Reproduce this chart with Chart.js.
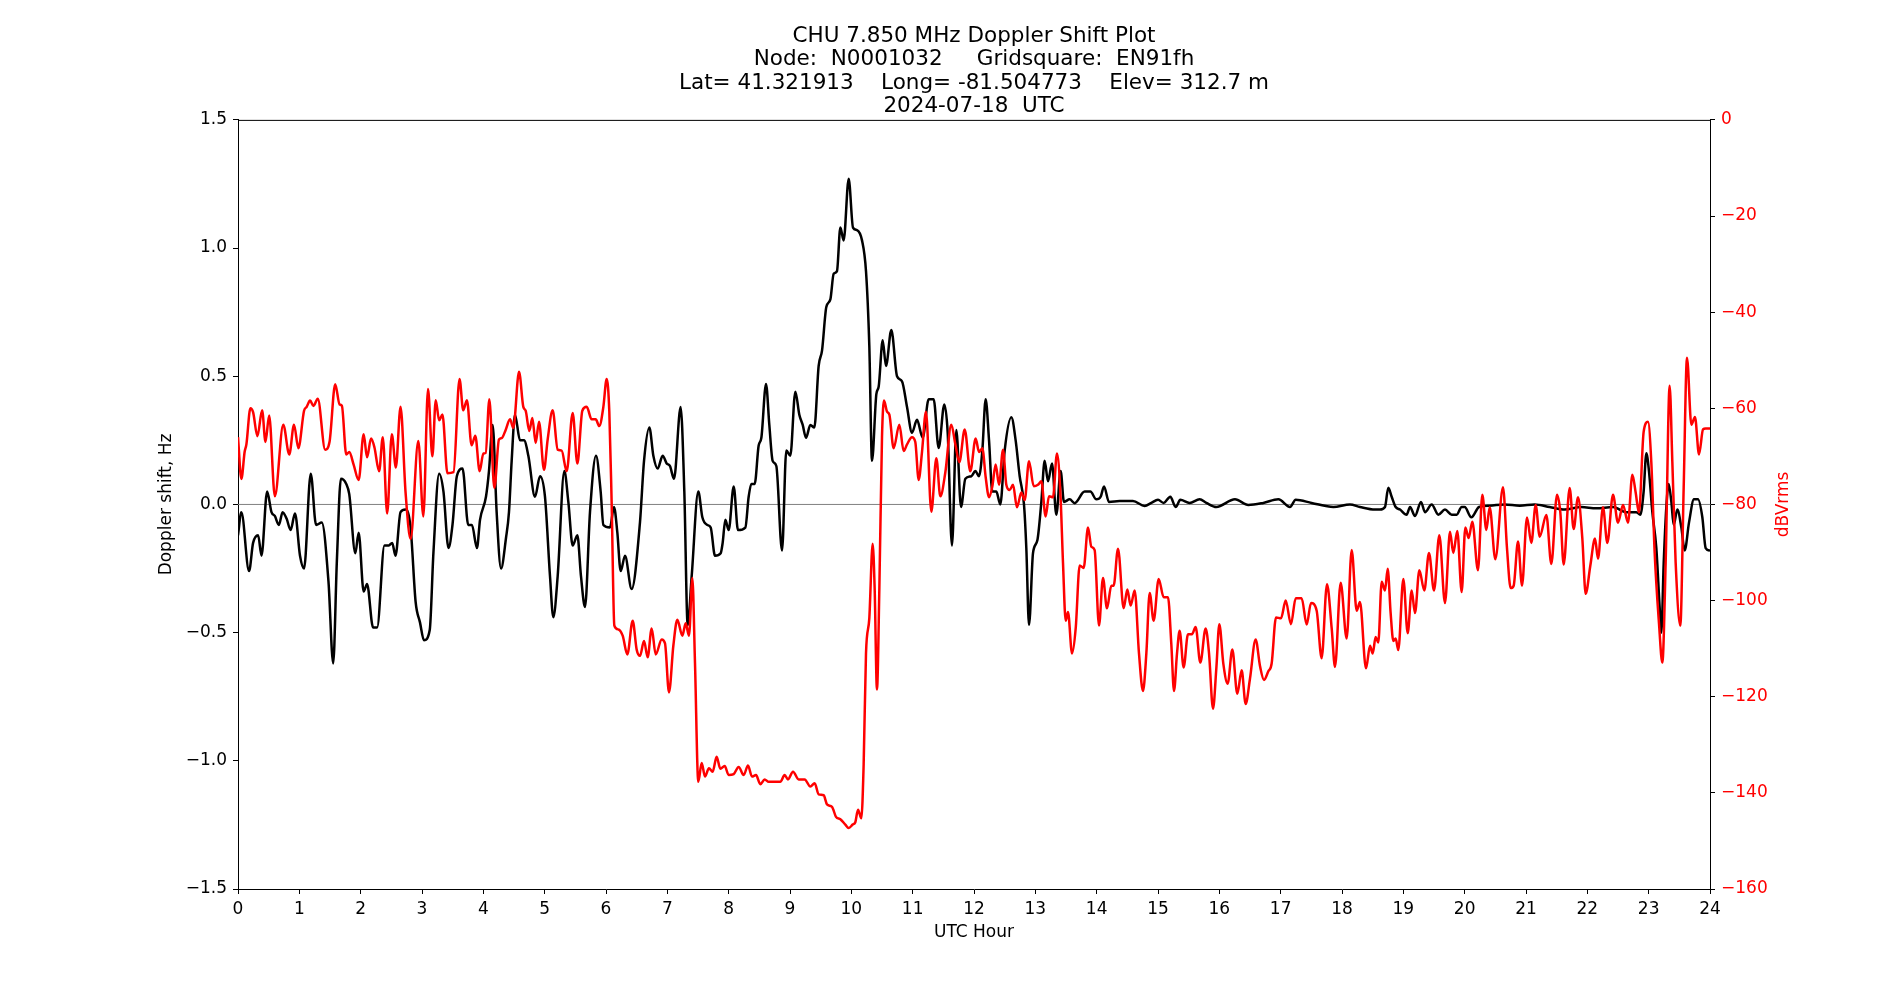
<!DOCTYPE html>
<html>
<head>
<meta charset="utf-8">
<title>CHU 7.850 MHz Doppler Shift Plot</title>
<script src="https://cdn.jsdelivr.net/npm/chart.js@4.4.1/dist/chart.umd.min.js"></script>
<style>
  html, body { margin: 0; padding: 0; background: #fff; }
  #wrap { width: 1900px; height: 1000px; }
</style>
</head>
<body>
<div id="wrap"><canvas id="plot" width="1900" height="1000"></canvas></div>
<script>
// Title lines
const titleLines = [
    'CHU 7.850 MHz Doppler Shift Plot',
    'Node:  N0001032     Gridsquare:  EN91fh',
    'Lat= 41.321913    Long= -81.504773    Elev= 312.7 m',
    '2024-07-18  UTC'
];

// Doppler shift (Hz), left axis
const dopplerHour = [
    0, 0.055, 0.18, 0.246, 0.328, 0.383, 0.475, 0.546, 0.60, 0.667, 0.727, 0.792, 0.858, 0.929,
    1.011, 1.077, 1.186, 1.273, 1.366, 1.475, 1.552, 1.612, 1.678, 1.765, 1.814, 1.913, 1.967,
    2.049, 2.104, 2.202, 2.268, 2.388, 2.459, 2.514, 2.568, 2.650, 2.732, 2.814, 2.896, 2.967,
    3.033, 3.126, 3.186, 3.279, 3.350, 3.432, 3.497, 3.568, 3.661, 3.754, 3.814, 3.896, 3.946,
    4.043, 4.092, 4.152, 4.217, 4.288, 4.370, 4.418, 4.462, 4.516, 4.598, 4.663, 4.734, 4.842, 4.924,
    5.005, 5.087, 5.141, 5.212, 5.321, 5.386, 5.457, 5.533, 5.592, 5.658, 5.739, 5.837, 5.913, 5.957,
    6.065, 6.130, 6.185, 6.239, 6.310, 6.418, 6.554, 6.620, 6.707, 6.772, 6.842, 6.924, 6.989,
    7.043, 7.109, 7.217, 7.277, 7.332, 7.397, 7.505, 7.571, 7.652, 7.707, 7.777, 7.870, 7.902, 7.946,
    8.0, 8.082, 8.152, 8.272, 8.326, 8.370, 8.424, 8.489, 8.533, 8.609, 8.663, 8.717, 8.777, 8.870, 8.940,
    9.005, 9.087, 9.152, 9.207, 9.261, 9.332, 9.397, 9.467, 9.522, 9.592, 9.658, 9.712, 9.766, 9.821, 9.875, 9.957,
    10.027, 10.092, 10.174, 10.239, 10.293, 10.337, 10.408, 10.446, 10.511, 10.565, 10.652, 10.745, 10.826, 10.908, 10.989,
    11.071, 11.163, 11.261, 11.342, 11.424, 11.516, 11.571, 11.641, 11.712, 11.788, 11.859, 11.957,
    12.022, 12.082, 12.136, 12.190, 12.245, 12.299, 12.364, 12.429, 12.5, 12.609, 12.679, 12.745, 12.815, 12.853, 12.897, 12.962,
    13.033, 13.098, 13.152, 13.207, 13.272, 13.342, 13.413, 13.467, 13.560, 13.641, 13.804, 13.897, 13.995,
    14.065, 14.120, 14.201, 14.375, 14.592, 14.783, 14.891, 15.0, 15.092, 15.201, 15.288, 15.364, 15.516, 15.679, 15.788, 15.951,
    16.255, 16.473, 16.717, 16.962, 17.152, 17.245, 17.505, 17.859, 18.130, 18.293, 18.538, 18.620, 18.701, 18.755, 18.810, 18.875, 18.946,
    19.054, 19.109, 19.190, 19.288, 19.353, 19.462, 19.571, 19.679, 19.788, 19.870, 19.951,
    20.0, 20.109, 20.234, 20.408, 20.652, 20.897, 21.141, 21.386, 21.630, 21.902, 22.147, 22.418, 22.636, 22.799, 22.864, 22.918, 22.962,
    23.005, 23.060, 23.125, 23.179, 23.207, 23.245, 23.288, 23.326, 23.370, 23.408, 23.467, 23.533, 23.587, 23.658, 23.739, 23.804, 23.875, 23.929, 24.0
];
const dopplerHz = [
    -0.12, -0.03, -0.26, -0.15, -0.12, -0.20, 0.05, -0.03, -0.045, -0.08, -0.03, -0.055, -0.10, -0.035,
    -0.20, -0.25, 0.12, -0.08, -0.07, -0.30, -0.62, -0.22, 0.10, 0.08, 0.04, -0.19, -0.11,
    -0.34, -0.31, -0.48, -0.48, -0.16, -0.16, -0.15, -0.20, -0.03, -0.02, -0.09, -0.38, -0.46,
    -0.53, -0.49, -0.19, 0.12, 0.05, -0.17, -0.08, 0.11, 0.14, -0.08, -0.08, -0.17, -0.06,
    0.03, 0.13, 0.31, -0.03, -0.25, -0.13, -0.03, 0.17, 0.35, 0.25, 0.25, 0.19, 0.03, 0.11,
    0.03, -0.28, -0.44, -0.28, 0.13, 0.01, -0.16, -0.12, -0.28, -0.40, -0.03, 0.19, 0.05, -0.08,
    -0.09, -0.01, -0.11, -0.26, -0.20, -0.33, -0.07, 0.17, 0.30, 0.19, 0.14, 0.19, 0.16,
    0.15, 0.10, 0.38, 0.05, -0.47, -0.28, 0.05, -0.05, -0.08, -0.09, -0.20, -0.19, -0.15, -0.06,
    -0.10, 0.07, -0.10, -0.09, 0.03, 0.08, 0.08, 0.23, 0.26, 0.47, 0.31, 0.17, 0.15, -0.18, 0.21,
    0.19, 0.44, 0.35, 0.31, 0.26, 0.31, 0.30, 0.54, 0.60, 0.77, 0.80, 0.90, 0.91, 1.08, 1.03, 1.27,
    1.08, 1.07, 1.03, 0.91, 0.62, 0.17, 0.43, 0.46, 0.64, 0.54, 0.68, 0.50, 0.48, 0.38, 0.28,
    0.33, 0.26, 0.41, 0.41, 0.22, 0.39, 0.28, -0.16, 0.29, -0.01, 0.10, 0.11,
    0.13, 0.11, 0.21, 0.41, 0.25, 0.05, 0.05, 0.0, 0.21, 0.34, 0.25, 0.11, 0.0, -0.17, -0.47, -0.19,
    -0.14, 0.01, 0.17, 0.09, 0.16, -0.04, 0.13, 0.01, 0.02, 0.005, 0.05, 0.05, 0.02,
    0.03, 0.07, 0.01, 0.013, 0.013, -0.006, 0.006, 0.018, 0.006, 0.03, -0.01, 0.018, 0.006, 0.02, 0.006, -0.01,
    0.02, -0.002, 0.006, 0.02, -0.01, 0.018, 0.006, -0.01, 0.0, -0.01, -0.02, -0.02, -0.01, 0.065, 0.03, -0.01, -0.02,
    -0.04, -0.01, -0.045, 0.01, -0.03, 0.0, -0.04, -0.02, -0.04, -0.04, -0.01,
    -0.01, -0.05, -0.01, -0.005, 0.0, -0.005, 0.0, -0.01, -0.02, -0.01, -0.015, -0.01, -0.03, -0.03, -0.04, 0.05, 0.20,
    0.13, -0.03, -0.17, -0.40, -0.50, -0.23, -0.01, 0.08, 0.01, -0.08, -0.02, -0.09, -0.18, -0.07, 0.02, 0.02, -0.05, -0.17, -0.18
];

// Signal level (dBVrms), right axis
const signalHour = [
    0, 0.055, 0.109, 0.137, 0.202, 0.246, 0.317, 0.393, 0.448, 0.508, 0.601, 0.738, 0.836, 0.913, 0.984,
    1.077, 1.120, 1.175, 1.230, 1.301, 1.421, 1.492, 1.585, 1.656, 1.694, 1.765, 1.814, 1.885, 1.967,
    2.049, 2.104, 2.169, 2.224, 2.301, 2.361, 2.432, 2.508, 2.574, 2.650, 2.732, 2.814, 2.940,
    3.022, 3.098, 3.169, 3.224, 3.279, 3.333, 3.415, 3.514, 3.612, 3.672, 3.732, 3.809, 3.869, 3.940,
    4.0, 4.038, 4.098, 4.179, 4.255, 4.299, 4.364, 4.435, 4.489, 4.582, 4.652, 4.690, 4.750, 4.799, 4.853, 4.908, 4.989,
    5.049, 5.130, 5.212, 5.277, 5.359, 5.457, 5.533, 5.614, 5.685, 5.766, 5.832, 5.891, 5.957,
    6.011, 6.054, 6.092, 6.136, 6.201, 6.272, 6.348, 6.435, 6.5, 6.554, 6.620, 6.679, 6.745, 6.810, 6.908, 6.962,
    7.027, 7.098, 7.163, 7.245, 7.299, 7.353, 7.408, 7.451, 7.505, 7.560, 7.614, 7.679, 7.739, 7.804, 7.864, 7.935,
    8.0, 8.082, 8.163, 8.245, 8.315, 8.380, 8.446, 8.516, 8.587, 8.652, 8.734, 8.842, 8.913, 8.967,
    9.049, 9.141, 9.239, 9.332, 9.402, 9.467, 9.549, 9.603, 9.685, 9.750, 9.821, 9.902, 9.957,
    10.022, 10.065, 10.109, 10.163, 10.201, 10.239, 10.293, 10.348, 10.380, 10.418, 10.457, 10.5, 10.533, 10.582, 10.620,
    10.690, 10.783, 10.853, 10.908, 10.989, 11.043, 11.098, 11.152, 11.217, 11.304, 11.386, 11.451, 11.533, 11.630, 11.696,
    11.761, 11.848, 11.940, 12.027, 12.082, 12.136, 12.190, 12.245, 12.299, 12.353, 12.408, 12.473, 12.527, 12.582, 12.636,
    12.701, 12.772, 12.826, 12.897, 12.973, 13.043, 13.098, 13.168, 13.223, 13.288, 13.353, 13.408, 13.451, 13.495, 13.533,
    13.598, 13.658, 13.723, 13.788, 13.859, 13.913, 13.967, 14.038, 14.103, 14.168, 14.239, 14.277, 14.348, 14.440, 14.5,
    14.554, 14.620, 14.690, 14.755, 14.810, 14.864, 14.929, 15.011, 15.092, 15.163, 15.217, 15.261, 15.310, 15.353, 15.418,
    15.489, 15.554, 15.614, 15.690, 15.777, 15.832, 15.897, 15.951, 16.0, 16.065, 16.136, 16.212, 16.293, 16.364, 16.429,
    16.5, 16.592, 16.663, 16.728, 16.799, 16.853, 16.924, 17.005, 17.082, 17.168, 17.245, 17.342, 17.424, 17.495, 17.587,
    17.668, 17.755, 17.832, 17.886, 17.978, 18.076, 18.158, 18.239, 18.293, 18.391, 18.457, 18.5, 18.549, 18.592, 18.647,
    18.701, 18.745, 18.793, 18.837, 18.875, 18.918, 19.0, 19.071, 19.136, 19.190, 19.261, 19.342, 19.418, 19.5, 19.587,
    19.679, 19.761, 19.815, 19.880, 19.951, 20.011, 20.065, 20.125, 20.217, 20.288, 20.353, 20.408, 20.5, 20.625, 20.690,
    20.750, 20.799, 20.870, 20.935, 21.016, 21.087, 21.158, 21.223, 21.332, 21.413, 21.505, 21.560, 21.614, 21.712, 21.777,
    21.848, 21.918, 21.973, 22.049, 22.125, 22.174, 22.255, 22.326, 22.418, 22.5, 22.582, 22.663, 22.734, 22.788, 22.842,
    22.918, 22.989, 23.043, 23.098, 23.168, 23.223, 23.277, 23.342, 23.386, 23.440, 23.516, 23.571, 23.625, 23.696, 23.755,
    23.821, 23.886, 23.929, 24.0
];
const signalDb = [
    -66, -74.7, -69, -67.5, -60, -60.8, -65.8, -60.4, -67, -61.5, -78.3, -63.4, -69.6, -63.4, -68.3,
    -60.5, -59.7, -58.4, -59.5, -58, -68.6, -67, -55, -59.2, -59.5, -69.6, -69.1, -71.7, -74.9,
    -65.4, -70.2, -66.3, -68.1, -73.1, -66, -81.9, -65.4, -72.3, -59.7, -77.5, -87.2, -66.8,
    -82.5, -56, -70, -58.3, -62.5, -61.3, -73.5, -73.3, -53.9, -60.4, -58.3, -67.7, -65.7, -73.1,
    -69.4, -69.3, -58.1, -76.6, -66.5, -66.2, -64.5, -62.3, -64.1, -52.4, -59.7, -60.5, -64.7, -62, -67.2, -62.8, -72.8,
    -66.5, -60.4, -68.6, -68.8, -73.1, -61, -71.5, -60.5, -59.7, -62.3, -62.3, -63.7, -59.7,
    -53.9, -60.7, -79.6, -105.2, -106, -107.3, -111.2, -104.2, -110.2, -111.5, -108.4, -111.8, -105.8, -111.2, -108.1, -108.9,
    -119.1, -109.4, -104, -107.3, -104.7, -107.3, -95.3, -113, -137.7, -133.8, -136.6, -134.9, -135.6, -132.5, -135, -134.4,
    -136.3, -136.1, -134.6, -136.3, -134.3, -136.6, -136.3, -138.2, -137.2, -137.7, -137.7, -137.7, -136.3, -137.2,
    -135.6, -137.2, -137.2, -138.7, -138.0, -140.3, -140.5, -142.4, -142.9, -145, -145.5, -146.6, -147.3,
    -146.6, -146.1, -143.5, -145.3, -134.0, -111, -103.7, -88.2, -97.4, -118.5, -97.4, -66, -58.4, -60.7, -61.3,
    -68.3, -63.4, -68.9, -67.5, -66, -67, -74.9, -69.1, -60.7, -81.5, -70.4, -78.3, -73.3, -63.4, -67.5,
    -71.2, -64.4, -73.1, -66.3, -69.1, -68.3, -74.3, -78.5, -76.2, -71.7, -75.9, -68.6, -75.9, -77, -75.9,
    -80.6, -77.5, -79.1, -71, -76.2, -75.9, -75.2, -82.5, -78.3, -78.5, -69.4, -77.5, -92.1, -104.2, -102.4,
    -111, -105.8, -92.7, -93.2, -84.8, -88.8, -89.5, -105.2, -95.3, -101.6, -96.9, -96.9, -89.2, -101.6, -97.7,
    -101, -97.9, -111, -118.8, -111, -98.4, -104.2, -95.5, -99.3, -99.3, -109, -118.8, -111, -106.3, -113.9,
    -107, -107, -105.5, -112.9, -105.8, -111, -122.5, -114.1, -104.9, -113.1, -117.3, -110.2, -119.4, -114.5, -121.5,
    -116.2, -108.1, -113.6, -116.5, -114.7, -113.1, -103.5, -103.7, -100, -104.9, -99.5, -99.5, -105, -100.5, -102.1,
    -112, -96.6, -105.8, -113.8, -96.3, -107.9, -89.5, -102.1, -100.3, -114.1, -109.4, -111, -107.6, -108.7, -96.1,
    -97.9, -93.4, -102.6, -108.4, -107.9, -110.3, -95.5, -106.8, -97.9, -102.6, -93.7, -97.9, -90.1, -97.9, -86.4,
    -100.5, -85.7, -90.1, -85.5, -98.2, -84.8, -87, -83.6, -93.7, -78, -85.3, -80.6, -91.4, -76.4, -89.1,
    -97.4, -96.9, -87.7, -96.9, -82.7, -88, -80.1, -86.7, -82.2, -92.4, -78, -81.7, -92.5, -76.6, -85.1,
    -78.5, -87, -98.6, -92.7, -87.1, -91.3, -80.6, -88, -78, -83.8, -80.1, -83.8, -73.8, -77.5, -81.7,
    -64.9, -62.8, -71.2, -90.1, -104.7, -112.9, -92.1, -55.3, -71.2, -92.1, -105.2, -76.4, -49.5, -63.4, -61.8,
    -69.6, -64.4, -64.2, -64.2
];

// horizontal zero reference
const zeroHour = [0, 24];
const zeroHz = [0, 0];

const FONT = '"DejaVu Sans", "Liberation Sans", sans-serif';
const toPoints = (xs, ys) => xs.map((x, i) => ({ x, y: ys[i] }));
const minus = (s) => String(s).replace('-', '\u2212');

// frame on top + axis titles (right one reads bottom-to-top like matplotlib)
const framePlugin = {
    id: 'frame',
    afterDraw(chart) {
        const { ctx, chartArea: a } = chart;
        ctx.save();
        ctx.strokeStyle = '#000';
        ctx.lineWidth = 1;
        ctx.beginPath();
        ctx.moveTo(a.left, a.top + 0.5);
        ctx.lineTo(a.right, a.top + 0.5);
        ctx.stroke();

        ctx.font = '17px ' + FONT;
        ctx.textAlign = 'center';
        ctx.textBaseline = 'middle';
        ctx.fillStyle = '#000';
        ctx.fillText('UTC Hour', (a.left + a.right) / 2, 933);

        const midY = (a.top + a.bottom) / 2;
        ctx.save();
        ctx.translate(167, midY);
        ctx.rotate(-Math.PI / 2);
        ctx.fillText('Doppler shift, Hz', 0, 0);
        ctx.restore();

        ctx.save();
        ctx.translate(1784, midY);
        ctx.rotate(-Math.PI / 2);
        ctx.fillStyle = '#ff0000';
        ctx.fillText('dBVrms', 0, 0);
        ctx.restore();
        ctx.restore();
    }
};

const tickFont = { family: FONT, size: 17 };

new Chart(document.getElementById('plot'), {
    type: 'line',
    data: {
        datasets: [
            {
                label: 'dBVrms',
                data: toPoints(signalHour, signalDb),
                yAxisID: 'y2',
                borderColor: '#ff0000',
                borderWidth: 2.5,
                pointRadius: 0,
                cubicInterpolationMode: 'monotone',
                order: 0
            },
            {
                label: 'Doppler shift',
                data: toPoints(dopplerHour, dopplerHz),
                yAxisID: 'y',
                borderColor: '#000000',
                borderWidth: 2.5,
                pointRadius: 0,
                cubicInterpolationMode: 'monotone',
                order: 1
            },
            {
                label: 'zero',
                data: toPoints(zeroHour, zeroHz),
                yAxisID: 'y',
                borderColor: '#808080',
                borderWidth: 1,
                pointRadius: 0,
                order: 2
            }
        ]
    },
    options: {
        responsive: false,
        animation: false,
        devicePixelRatio: 1,
        layout: { padding: { left: 48, right: 0, top: 0, bottom: 0 } },
        plugins: {
            legend: { display: false },
            tooltip: { enabled: false },
            title: {
                display: true,
                text: titleLines,
                color: '#000',
                font: { family: FONT, size: 21.5, weight: 'normal', lineHeight: 1.08 },
                padding: { top: 25, bottom: 2 }
            }
        },
        scales: {
            x: {
                type: 'linear',
                position: 'bottom',
                min: 0,
                max: 24,
                ticks: { stepSize: 1, autoSkip: false, maxRotation: 0, color: '#000', font: tickFont, padding: 5 },
                grid: { drawOnChartArea: false, drawTicks: true, tickLength: 5, tickColor: '#000' },
                border: { color: '#000', width: 1 },
                afterFit: (s) => { s.height = 111; }
            },
            y: {
                position: 'left',
                min: -1.5,
                max: 1.5,
                ticks: {
                    stepSize: 0.5,
                    color: '#000',
                    font: tickFont,
                    padding: 6,
                    callback: (v) => minus(v.toFixed(1))
                },
                grid: { drawOnChartArea: false, drawTicks: true, tickLength: 5, tickColor: '#000' },
                border: { color: '#000', width: 1 },
                afterFit: (s) => { s.width = 190; }
            },
            y2: {
                position: 'right',
                min: -160,
                max: 0,
                ticks: {
                    stepSize: 20,
                    color: '#ff0000',
                    font: tickFont,
                    padding: 6,
                    callback: (v) => minus(v)
                },
                grid: { drawOnChartArea: false, drawTicks: true, tickLength: 5, tickColor: '#000' },
                border: { color: '#000', width: 1 },
                afterFit: (s) => { s.width = 190; }
            }
        }
    },
    plugins: [framePlugin]
});
</script>
</body>
</html>
